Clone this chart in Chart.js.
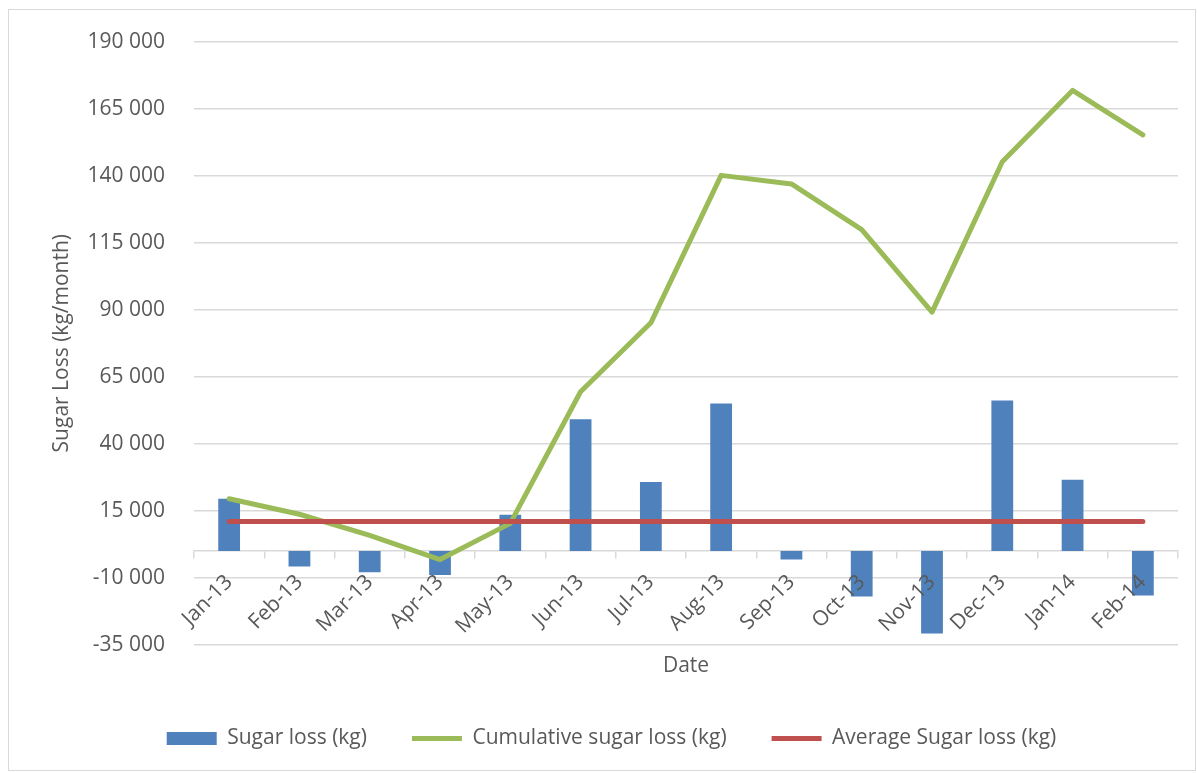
<!DOCTYPE html>
<html>
<head>
<meta charset="utf-8">
<script src="https://cdn.jsdelivr.net/npm/chart.js@4"></script>
<style>
  body { margin: 0; background: #fff; }
  #wrap { position: relative; width: 1197px; height: 773px; }
  #frame { position: absolute; left: 8px; top: 9px; width: 1186px; height: 760px; border: 1px solid #d9d9d9; }
  #grafica { position: absolute; left: 0; top: 0; }
</style>
</head>
<body>
<div id="wrap">
  <div id="frame"></div>
  <canvas id="grafica" width="1197" height="773"></canvas>
</div>
<script>
// meses
const categorias = ['Jan-13', 'Feb-13', 'Mar-13', 'Apr-13', 'May-13', 'Jun-13', 'Jul-13',
                    'Aug-13', 'Sep-13', 'Oct-13', 'Nov-13', 'Dec-13', 'Jan-14', 'Feb-14'];

// perdida mensual (kg)
const perdida = [19500, -5800, -7900, -9000, 13500, 49100, 25700,
                 55000, -3200, -17000, -30800, 56100, 26600, -16600];

// perdida acumulada (kg)
const acumulada = [19500, 13700, 5800, -3200, 10300, 59400, 85100,
                   140100, 136900, 119900, 89100, 145200, 171800, 155200];

// promedio (kg)
const promedio = [11000, 11000, 11000, 11000, 11000, 11000, 11000,
                  11000, 11000, 11000, 11000, 11000, 11000, 11000];

// eje y
const yMin = -35000;
const yMax = 190000;
const yPaso = 25000;

const gris = '#595959';
const rejilla = '#d9d9d9';

Chart.defaults.font.family = "'Open Sans', sans-serif";
Chart.defaults.font.size = 21;
Chart.defaults.color = gris;

// numeros con espacio como separador de miles
function formato(v) {
    const s = String(Math.abs(v)).replace(/\B(?=(\d{3})+(?!\d))/g, ' ');
    return (v < 0 ? '-' : '') + s;
}

const ctx = document.getElementById('grafica').getContext('2d');
new Chart(ctx, {
    type: 'bar',
    data: {
        labels: categorias,
        datasets: [{
            label: 'Sugar loss (kg)',
            data: perdida,
            backgroundColor: '#4f81bd',
            borderWidth: 0,
            categoryPercentage: 1,
            barPercentage: 0.31,
            pointStyle: 'rect',
            order: 3
        }, {
            type: 'line',
            label: 'Cumulative sugar loss (kg)',
            data: acumulada,
            borderColor: '#9bbb59',
            backgroundColor: '#9bbb59',
            borderWidth: 5,
            borderCapStyle: 'round',
            borderJoinStyle: 'round',
            pointRadius: 0,
            pointStyle: 'line',
            tension: 0,
            order: 2
        }, {
            type: 'line',
            label: 'Average Sugar loss (kg)',
            data: promedio,
            borderColor: '#c0504d',
            backgroundColor: '#c0504d',
            borderWidth: 5,
            borderCapStyle: 'round',
            pointRadius: 0,
            pointStyle: 'line',
            order: 1
        }]
    },
    options: {
        responsive: false,
        animation: false,
        layout: { padding: { left: 45, right: 19, top: 39, bottom: 14 } },
        plugins: {
            tooltip: { enabled: false },
            legend: {
                position: 'bottom',
                labels: {
                    usePointStyle: true,
                    pointStyleWidth: 50,
                    boxHeight: 13,
                    padding: 45,
                    color: gris,
                    font: { size: 21 },
                    sort: (a, b) => a.datasetIndex - b.datasetIndex
                }
            }
        },
        scales: {
            x: {
                type: 'category',
                position: { y: 0 },
                afterFit: (s) => { s.height = 0; },
                grid: { display: true, drawOnChartArea: false, drawTicks: true, tickLength: 7, offset: true, color: rejilla, lineWidth: 1.5 },
                border: { display: true, color: rejilla, width: 1.5 },
                // etiquetas encima de las barras
                ticks: { z: 1, minRotation: 45, maxRotation: 45, autoSkip: false, padding: 12, color: gris }
            },
            xt: {
                type: 'category',
                position: 'bottom',
                grid: { display: false, drawTicks: false },
                border: { display: false },
                ticks: { display: false },
                title: { display: true, text: 'Date', color: gris, font: { size: 21 }, padding: { top: 9, bottom: 4 } }
            },
            y: {
                min: yMin,
                max: yMax,
                afterFit: (s) => { s.width = 149; },
                grid: { color: rejilla, lineWidth: 1.5, drawTicks: false },
                border: { display: false },
                ticks: { stepSize: yPaso, padding: 29, color: gris, callback: (v) => formato(v) },
                title: { display: true, text: 'Sugar Loss (kg/month)', color: gris, font: { size: 21 }, padding: { top: 4, bottom: 4 } }
            }
        }
    }
});
</script>
</body>
</html>
